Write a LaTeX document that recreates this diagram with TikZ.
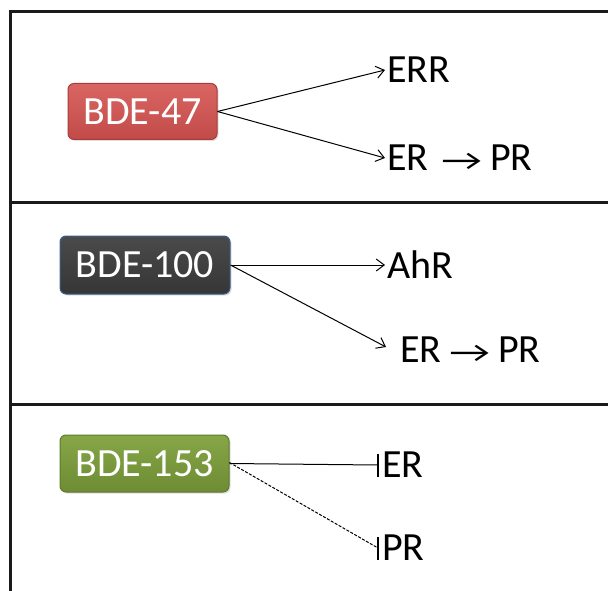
\documentclass[tikz,border=0pt]{standalone}
\usepackage{fontspec}
\usepackage{graphicx}
\setmainfont{Carlito}
\usetikzlibrary{arrows.meta,shadows}
\definecolor{redtop}{HTML}{D96562}
\definecolor{redbot}{HTML}{C24B48}
\definecolor{redline}{HTML}{A83C3A}
\definecolor{darktop}{HTML}{4A4A4A}
\definecolor{darkbot}{HTML}{363636}
\definecolor{darkline}{HTML}{3A5F8E}
\definecolor{greentop}{HTML}{86A647}
\definecolor{greenbot}{HTML}{6E8C34}
\definecolor{greenline}{HTML}{5E7A2C}
\definecolor{framecol}{HTML}{1A1A1A}
\tikzset{
  compound/.style={rounded corners=6pt, line width=1pt, text=white,
    minimum height=56pt, inner sep=0pt, font=\fontsize{40}{44}\selectfont,
    drop shadow={shadow xshift=1.5pt, shadow yshift=-1.5pt, opacity=0.25}},
  target/.style={anchor=west, inner sep=2pt, font=\fontsize{40}{44}\selectfont},
  act/.style={line width=1pt, -{Straight Barb[length=8pt,width=12pt,line width=1pt]}},
  inhib/.style={line width=1pt},
  barline/.style={line width=1.2pt},
  framing/.style={line width=2.2pt, draw=framecol}
}
% long thin arrow set between words
\newcommand{\ra}[2]{\hspace{#1}{\fontsize{30}{32}\selectfont\scalebox{1.5}[1]{→}}\hspace{#2}}
\begin{document}
\begin{tikzpicture}[x=1pt,y=-1pt]
  \useasboundingbox (0,0) rectangle (608,591);

  % panel frame
  \draw[framing] (608,11.5) -- (10.5,11.5) -- (10.5,591);
  \draw[framing] (10.5,202.5) -- (608,202.5);
  \draw[framing] (10.5,404.5) -- (608,404.5);

  % panel 1: BDE-47
  \node[compound, top color=redtop, bottom color=redbot, draw=redline, minimum width=149pt] (b47) at (142.5,111.5) {BDE-47};
  \node[target] (err) at (385,70) {ERR};
  \node[target] (erpr1) at (385,158) {ER\ra{13pt}{8pt}PR};
  \draw[act] (b47.east) -- (err.west);
  \draw[act] (b47.east) -- (erpr1.west);

  % panel 2: BDE-100
  \node[compound, top color=darktop, bottom color=darkbot, draw=darkline, minimum width=170pt, minimum height=58pt] (b100) at (145,265) {BDE-100};
  \node[target] (ahr) at (385,265) {AhR};
  \node[target] (erpr2) at (398,350) {ER\ra{8pt}{8pt}PR};
  \coordinate (tip2) at (386,347);
  \draw[act] (b100.east) -- (ahr.west);
  \draw[act] (b100.east) -- (tip2);

  % panel 3: BDE-153 (inhibition, flat vertical bars)
  \node[compound, top color=greentop, bottom color=greenbot, draw=greenline, minimum width=169pt, minimum height=57pt] (b153) at (144.5,463.5) {BDE-153};
  \node[target] (er3) at (380,465) {ER};
  \node[target] (pr3) at (380,548) {PR};
  \coordinate (bar1) at (378,465);
  \coordinate (bar2) at (378,548);
  \draw[inhib] (b153.east) -- (bar1);
  \draw[inhib, dash pattern=on 3pt off 1.5pt] ([yshift=1pt]b153.east) -- (bar2);
  \draw[barline] ([yshift=-11.5pt]bar1) -- ([yshift=11.5pt]bar1);
  \draw[barline] ([yshift=-11.5pt]bar2) -- ([yshift=11.5pt]bar2);
\end{tikzpicture}
\end{document}
